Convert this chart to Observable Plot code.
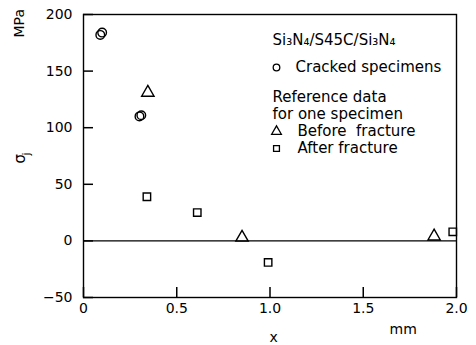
<!DOCTYPE html>
<html><head><meta charset="utf-8">
<script src="https://cdn.jsdelivr.net/npm/d3@7"></script>
<script src="https://cdn.jsdelivr.net/npm/@observablehq/plot@0.6"></script>
<style>body{margin:0;background:#fff}#chart svg{display:block}</style>
</head><body><div id="chart"></div>
<script>
// Cracked specimens (circles)
const crackedX = [0.09, 0.10, 0.30, 0.31];
const crackedY = [182, 184, 110, 111];
// Reference data: before fracture (triangles)
const beforeX = [0.345, 0.85, 1.88];
const beforeY = [131, 3, 4];
// Reference data: after fracture (squares)
const afterX = [0.34, 0.61, 0.99, 1.98];
const afterY = [39, 25, -19, 8];

const xTicks = [0, 0.5, 1.0, 1.5, 2.0];
const xTickLabels = ["0", "0.5", "1.0", "1.5", "2.0"];
const yTicks = [-50, 0, 50, 100, 150, 200];

const legendTitle = "Si₃N₄/S45C/Si₃N₄";
const legendCracked = "Cracked specimens";
const legendRef1 = "Reference data";
const legendRef2 = "for one specimen";
const legendBefore = "Before  fracture";
const legendAfter = "After fracture";

const toRows = (xs, ys) => xs.map((x, i) => ({x, y: ys[i]}));
const font = "DejaVu Sans, sans-serif";
const lf = 15;
const W = 476, H = 345, ML = 83, MR = 20, MT = 14, MB = 48;
const xDomain = [0, 2], yDomain = [-50, 200];
const tickPx = 10;
const fw = W - ML - MR, fh = H - MT - MB;

const label = (s, o) => Plot.text([s], {x: null, y: null, text: d => d, lineAnchor: "middle", ...o});

const chart = Plot.plot({
  width: W, height: H,
  marginLeft: ML, marginRight: MR, marginTop: MT, marginBottom: MB,
  style: {fontFamily: font},
  x: {domain: xDomain, label: null},
  y: {domain: yDomain, label: null},
  marks: [
    Plot.frame({strokeWidth: 1.4}),
    Plot.ruleY([0], {strokeWidth: 1.2}),
    // inward ticks
    Plot.tickY(yTicks, {y: d => d, insetRight: fw - tickPx, strokeWidth: 1.5}),
    Plot.tickX(xTicks, {x: d => d, insetTop: fh - tickPx, strokeWidth: 1.5}),
    Plot.axisY({ticks: yTicks, tickSize: 0, tickPadding: 11, fontSize: 14, label: null}),
    Plot.axisX({ticks: xTicks, tickFormat: d => xTickLabels[xTicks.indexOf(d)], tickSize: 0, tickPadding: 6, fontSize: 14, label: null}),
    Plot.dot(toRows(crackedX, crackedY), {x: "x", y: "y", symbol: "circle", r: 4.3, stroke: "currentColor", strokeWidth: 1.4}),
    Plot.dot(toRows(beforeX, beforeY), {x: "x", y: "y", symbol: "triangle", r: 4.6, stroke: "currentColor", strokeWidth: 1.4}),
    Plot.dot(toRows(afterX, afterY), {x: "x", y: "y", symbol: "square", r: 4.2, stroke: "currentColor", strokeWidth: 1.4}),
    // legend
    label(legendTitle, {frameAnchor: "top-left", textAnchor: "start", dx: 189, dy: 26, fontSize: lf}),
    Plot.dot([0], {x: null, y: null, frameAnchor: "top-left", dx: 193, dy: 53, symbol: "circle", r: 3.3, stroke: "currentColor", strokeWidth: 1.3}),
    label(legendCracked, {frameAnchor: "top-left", textAnchor: "start", dx: 212, dy: 53, fontSize: lf}),
    label(legendRef1, {frameAnchor: "top-left", textAnchor: "start", dx: 189, dy: 83, fontSize: lf}),
    label(legendRef2, {frameAnchor: "top-left", textAnchor: "start", dx: 189, dy: 100, fontSize: lf}),
    Plot.dot([0], {x: null, y: null, frameAnchor: "top-left", dx: 193, dy: 117, symbol: "triangle", r: 3.6, stroke: "currentColor", strokeWidth: 1.3}),
    label(legendBefore, {frameAnchor: "top-left", textAnchor: "start", dx: 214, dy: 117, fontSize: lf}),
    Plot.dot([0], {x: null, y: null, frameAnchor: "top-left", dx: 193, dy: 134, symbol: "square", r: 3.3, stroke: "currentColor", strokeWidth: 1.3}),
    label(legendAfter, {frameAnchor: "top-left", textAnchor: "start", dx: 214, dy: 134, fontSize: lf}),
    // axis labels
    label("x", {frameAnchor: "bottom-left", dx: 186, dy: 40, fontSize: 14}),
    label("mm", {frameAnchor: "bottom-left", dx: 306, dy: 32, fontSize: 14}),
    label("MPa", {frameAnchor: "top-left", rotate: -90, dx: -64, dy: 23, fontSize: 14}),
    label("σ", {frameAnchor: "top-left", rotate: -90, dx: -63, dy: 149, fontSize: 15}),
    label("j", {frameAnchor: "top-left", rotate: -90, dx: -57, dy: 141, fontSize: 11})
  ]
});
document.getElementById("chart").append(chart);
</script>
</body></html>
